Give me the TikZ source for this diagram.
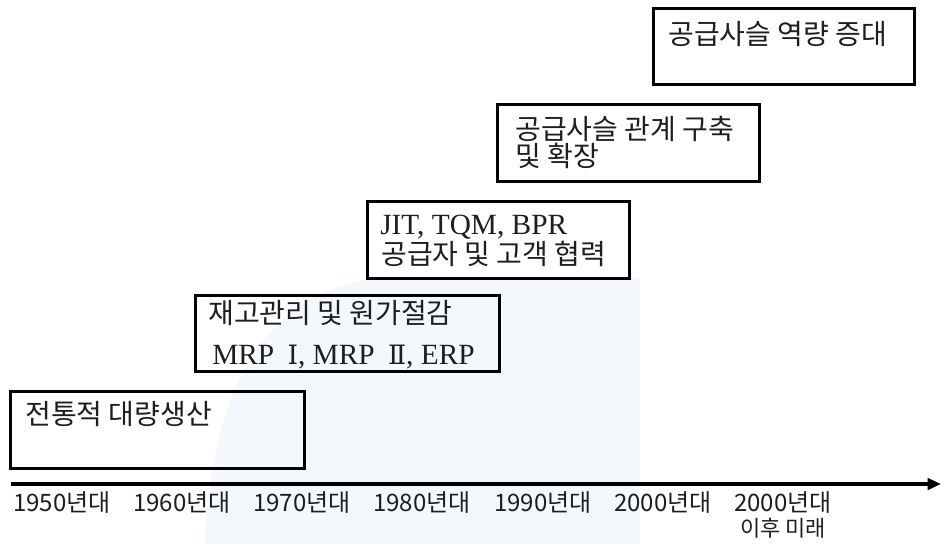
\documentclass[tikz,border=0pt]{standalone}
\usepackage{fontspec}
\setmainfont{Liberation Serif}
\newfontfamily\kr{Noto Sans CJK KR}
\newfontfamily\rn{DejaVu Serif}
\usetikzlibrary{arrows.meta}
\definecolor{wm}{HTML}{F4F8FC}
\definecolor{ink}{HTML}{1E1E1E}
\begin{document}
\begin{tikzpicture}[x=0.75pt,y=-0.75pt,
  box/.style={draw=black, line width=2pt, inner sep=0pt, anchor=north west},
  krtext/.style={font={\kr\fontsize{21pt}{24pt}\selectfont}, anchor=west, inner sep=0pt, text=ink},
  lattext/.style={font={\fontsize{22pt}{25pt}\selectfont}, anchor=base west, inner sep=0pt, text=ink},
  yeartext/.style={font={\kr\fontsize{18pt}{21pt}\selectfont}, inner sep=0pt, text=ink},
  axis/.style={line width=2.6pt, -{Triangle[length=10pt,width=8.5pt]}}]
\useasboundingbox (0,0) rectangle (942,544);
\fill[white] (0,0) rectangle (942,544);
% faint watermark
\fill[wm] (205,544) .. controls (210,400) and (260,278) .. (400,277) -- (640,277) -- (640,544) -- cycle;

% boxes
\node[box, minimum width=220.5pt, minimum height=57.75pt] (b1) at (9,390) {};
\node[box, minimum width=228pt, minimum height=57pt] (b2) at (194,294) {};
\node[box, minimum width=196.5pt, minimum height=57.75pt] (b3) at (366,200) {};
\node[box, minimum width=196.5pt, minimum height=57.75pt] (b4) at (496,103) {};
\node[box, minimum width=195.75pt, minimum height=57pt] (b5) at (652,7) {};

% box texts
\node[krtext] (t1) at (25,414) {전통적 대량생산};
\node[krtext] (t2a) at (208,313) {재고관리 및 원가절감};
\node[lattext] (t2b) at (212,364) {MRP\hspace{4.5pt} {\rn\fontsize{20pt}{24pt}\selectfont Ⅰ}, MRP\hspace{4.5pt} {\rn\fontsize{20pt}{24pt}\selectfont Ⅱ}, ERP};
\node[lattext] (t3a) at (380,234) {JIT, TQM, BPR};
\node[krtext] (t3b) at (381,254) {공급자 및 고객 협력};
\node[krtext] (t4a) at (515,129) {공급사슬 관계 구축};
\node[krtext] (t4b) at (515,156) {및 확장};
\node[krtext] (t5) at (668,34) {공급사슬 역량 증대};

% axis
\coordinate (as) at (11,484);
\coordinate (ae) at (941,484);
\draw[axis] (as) -- (ae);

% year labels
\node[yeartext, anchor=west] (y1) at (13,502) {1950년대};
\node[yeartext, anchor=west] (y2) at (133,502) {1960년대};
\node[yeartext, anchor=west] (y3) at (253,502) {1970년대};
\node[yeartext, anchor=west] (y4) at (373,502) {1980년대};
\node[yeartext, anchor=west] (y5) at (494,502) {1990년대};
\node[yeartext, anchor=west] (y6) at (614,502) {2000년대};
\node[yeartext, anchor=west] (y7) at (734,502) {2000년대};
\node[yeartext, font={\kr\fontsize{16.5pt}{20pt}\selectfont}] (y8) at (783,528) {이후 미래};
\end{tikzpicture}
\end{document}
